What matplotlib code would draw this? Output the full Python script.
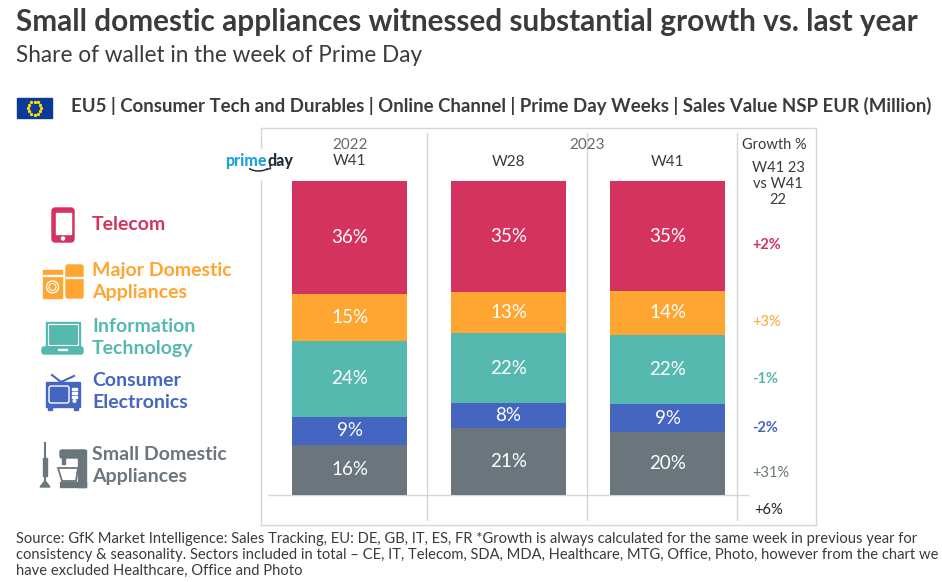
import numpy as np
import matplotlib.pyplot as plt
from matplotlib.patches import Rectangle, FancyBboxPatch, Circle, Arc, Polygon

plt.rcParams['font.family'] = ['Lato', 'DejaVu Sans']

# ---- data ----
weeks = ['W41', 'W28', 'W41']
years = ['2022', '2023']
categories = ['Small Domestic\nAppliances', 'Consumer\nElectronics',
              'Information\nTechnology', 'Major Domestic\nAppliances', 'Telecom']
# share of wallet (%), stacked bottom to top
sda = [16, 21, 20]
ce = [9, 8, 9]
it = [24, 22, 22]
mda = [15, 13, 14]
telecom = [36, 35, 35]
growth = ['+31%', '-2%', '-1%', '+3%', '+2%']
total_growth = '+6%'

colors = ['#6B767C', '#4466C0', '#55B9B0', '#FFA531', '#D4335F']
dark = '#3B3B3B'
grey_line = '#D6D6D6'

shares = np.array([sda, ce, it, mda, telecom], dtype=float)
heights = shares / shares.sum(axis=0) * 100

fig = plt.figure(figsize=(9.42, 5.82), dpi=100)

# ---- bar area ----
ax = fig.add_axes([261 / 942, 1 - 525 / 582, 555 / 942, 397 / 582])
x = np.arange(len(weeks))
bottom = np.zeros(len(weeks))
for i in range(len(categories)):
    ax.bar(x, heights[i], 0.723, bottom=bottom, color=colors[i], zorder=2)
    for j in range(len(weeks)):
        ax.text(x[j], bottom[j] + heights[i][j] / 2, f'{int(shares[i][j])}%',
                ha='center', va='center', color='white', fontsize=13.5, zorder=3)
    # growth column, next to last bar
    ax.text(2.531, bottom[-1] + heights[i][-1] / 2 - 3, growth[i], ha='left',
            va='center', color=colors[i], fontsize=10.5,
            fontweight='bold' if i in (1, 2, 4) else 'normal')
    bottom += heights[i]

ax.text(2.638, -4.8, total_growth, ha='center', va='center', color='#222222', fontsize=10.5)
ax.text(2.67, 111.5, 'Growth %', ha='center', va='center', color=dark, fontsize=10.5)
ax.text(2.695, 99.0, 'W41 23\nvs W41\n22', ha='center', va='center', color=dark,
        fontsize=10.5, linespacing=1.2)

ax.text(0, 111.5, years[0], ha='center', va='center', color='#5F6B73', fontsize=11)
ax.text(1.494, 111.5, years[1], ha='center', va='center', color='#5F6B73', fontsize=11)
for j in range(len(weeks)):
    ax.text(x[j], 106.5 if j == 0 else 106, weeks[j], ha='center', va='center',
            color=dark, fontsize=11)

for sx in (0.487, 1.494, 2.437):
    ax.plot([sx, sx], [-8, 115.3], color=grey_line, lw=1, zorder=1)
ax.plot([-0.513, 2.506], [0, 0], color=grey_line, lw=1, zorder=1)

ax.set_xlim(-0.557, 2.934)
ax.set_ylim(-9.55, 116.9)
ax.set_xticks([])
ax.set_yticks([])
for s in ax.spines.values():
    s.set_color(grey_line)
    s.set_linewidth(1)

# ---- overlay in pixel coordinates ----
ov = fig.add_axes([0, 0, 1, 1], zorder=5)
ov.set_xlim(0, 942)
ov.set_ylim(582, 0)
ov.axis('off')
ov.patch.set_alpha(0)

ov.text(16, 22, 'Small domestic appliances witnessed substantial growth vs. last year',
        fontsize=21.4, fontweight='bold', color=dark, va='center')
ov.text(16, 56, 'Share of wallet in the week of Prime Day', fontsize=16.3,
        color=dark, va='center')

# EU flag
ov.add_patch(Rectangle((17, 98), 35, 20, color='#0C3A9A'))
ang = np.linspace(0, 2 * np.pi, 13)[:-1]
ov.scatter(34.5 + 6.5 * np.cos(ang), 108 + 6.5 * np.sin(ang), s=2.5, marker='*',
           color='#FFDD00', zorder=3)
ov.text(71, 106, 'EU5 | Consumer Tech and Durables | Online Channel | Prime Day Weeks | '
        'Sales Value NSP EUR (Million)', fontsize=13.4, fontweight='bold',
        color=dark, va='center')

# prime day logo
ov.add_patch(Rectangle((226, 149), 68, 30, color='white', zorder=1))
ov.text(267, 161, 'prime', fontsize=11.5, fontweight='black', color='#1FA3D8',
        ha='right', va='center', zorder=2)
ov.text(267, 161, 'day', fontsize=11.5, fontweight='black', color='#232F3E',
        ha='left', va='center', zorder=2)
ov.add_patch(Arc((258.5, 164), 24, 14, theta1=25, theta2=155, color='#232F3E',
                 lw=1.1, zorder=2))
ov.plot([267, 270.5, 270], [169.5, 168.5, 165.5], color='#232F3E', lw=1, zorder=2)

# legend labels
label_y = [465.5, 391.5, 337.5, 281.5, 224]
for i in range(len(categories)):
    ov.text(92, label_y[i], categories[i], fontsize=14, fontweight='bold',
            color=colors[i], va='center', linespacing=1.38)

# icons
c = colors[4]
ov.add_patch(FancyBboxPatch((52, 208), 22, 34, boxstyle='round,pad=0,rounding_size=3',
                            color=c))
ov.add_patch(Rectangle((55.5, 213), 15, 21, color='white'))
ov.add_patch(Circle((63, 238.5), 1.5, color='white'))

c = colors[3]
ov.add_patch(Rectangle((43, 270), 19, 28, color=c))
ov.add_patch(Rectangle((43, 275), 19, 1, color='white'))
ov.add_patch(Circle((52.5, 287), 6, fill=False, ec='white', lw=1))
ov.add_patch(Circle((52.5, 287), 3.5, fill=False, ec='white', lw=0.8))
ov.add_patch(FancyBboxPatch((66, 265), 17, 33, boxstyle='round,pad=0,rounding_size=2',
                            color=c))
ov.add_patch(Rectangle((66, 277), 17, 1, color='white'))

c = colors[2]
ov.add_patch(Rectangle((46, 322), 34, 25, color=c))
ov.add_patch(Rectangle((48, 324), 30, 21, fill=False, ec='white', lw=0.8))
ov.add_patch(FancyBboxPatch((42, 347), 41, 7, boxstyle='round,pad=0,rounding_size=2',
                            color=c))
ov.add_patch(Rectangle((58, 349), 9, 1.2, color='white'))

c = colors[1]
ov.plot([61, 52], [382, 375], color=c, lw=1.5)
ov.plot([61, 74], [382, 376], color=c, lw=1.5)
ov.add_patch(Rectangle((46, 382), 34, 25, color=c))
ov.add_patch(FancyBboxPatch((49, 386), 20, 17, boxstyle='round,pad=0,rounding_size=2',
                            fill=False, ec='white', lw=1))
for yy in (388, 392, 396):
    ov.add_patch(Rectangle((72, yy), 5, 1.5, color='white'))
ov.add_patch(Circle((74.5, 401), 1.3, color='white'))
ov.add_patch(Rectangle((48, 407), 4, 3, color=c))
ov.add_patch(Rectangle((74, 407), 4, 3, color=c))

c = colors[0]
ov.plot([45, 45], [443, 484], color=c, lw=1.5)
ov.add_patch(Rectangle((43, 458), 4, 18, color=c))
ov.add_patch(Polygon([[40, 487], [50, 487], [46, 482], [44, 482]], color=c))
ov.add_patch(FancyBboxPatch((60, 450), 26, 8, boxstyle='round,pad=0,rounding_size=2',
                            color=c))
ov.add_patch(Rectangle((78, 450), 8, 37, color=c))
ov.add_patch(Rectangle((62, 458), 3, 6, color=c))
ov.add_patch(Polygon([[58, 468], [78, 468], [76, 481], [62, 481]], closed=True,
                     fill=False, ec=c, lw=1.3))
ov.add_patch(Rectangle((60, 482), 26, 5, color=c))

ov.text(16, 555, 'Source: GfK Market Intelligence: Sales Tracking, EU: DE, GB, IT, ES, FR '
        '*Growth is always calculated for the same week in previous year for\n'
        'consistency & seasonality. Sectors included in total \u2013 CE, IT, Telecom, SDA, '
        'MDA, Healthcare, MTG, Office, Photo, however from the chart we\n'
        'have excluded Healthcare, Office and Photo',
        fontsize=10.6, color='#3A3A3A', va='center', linespacing=1.15)

fig.savefig('out.png', dpi=100)
